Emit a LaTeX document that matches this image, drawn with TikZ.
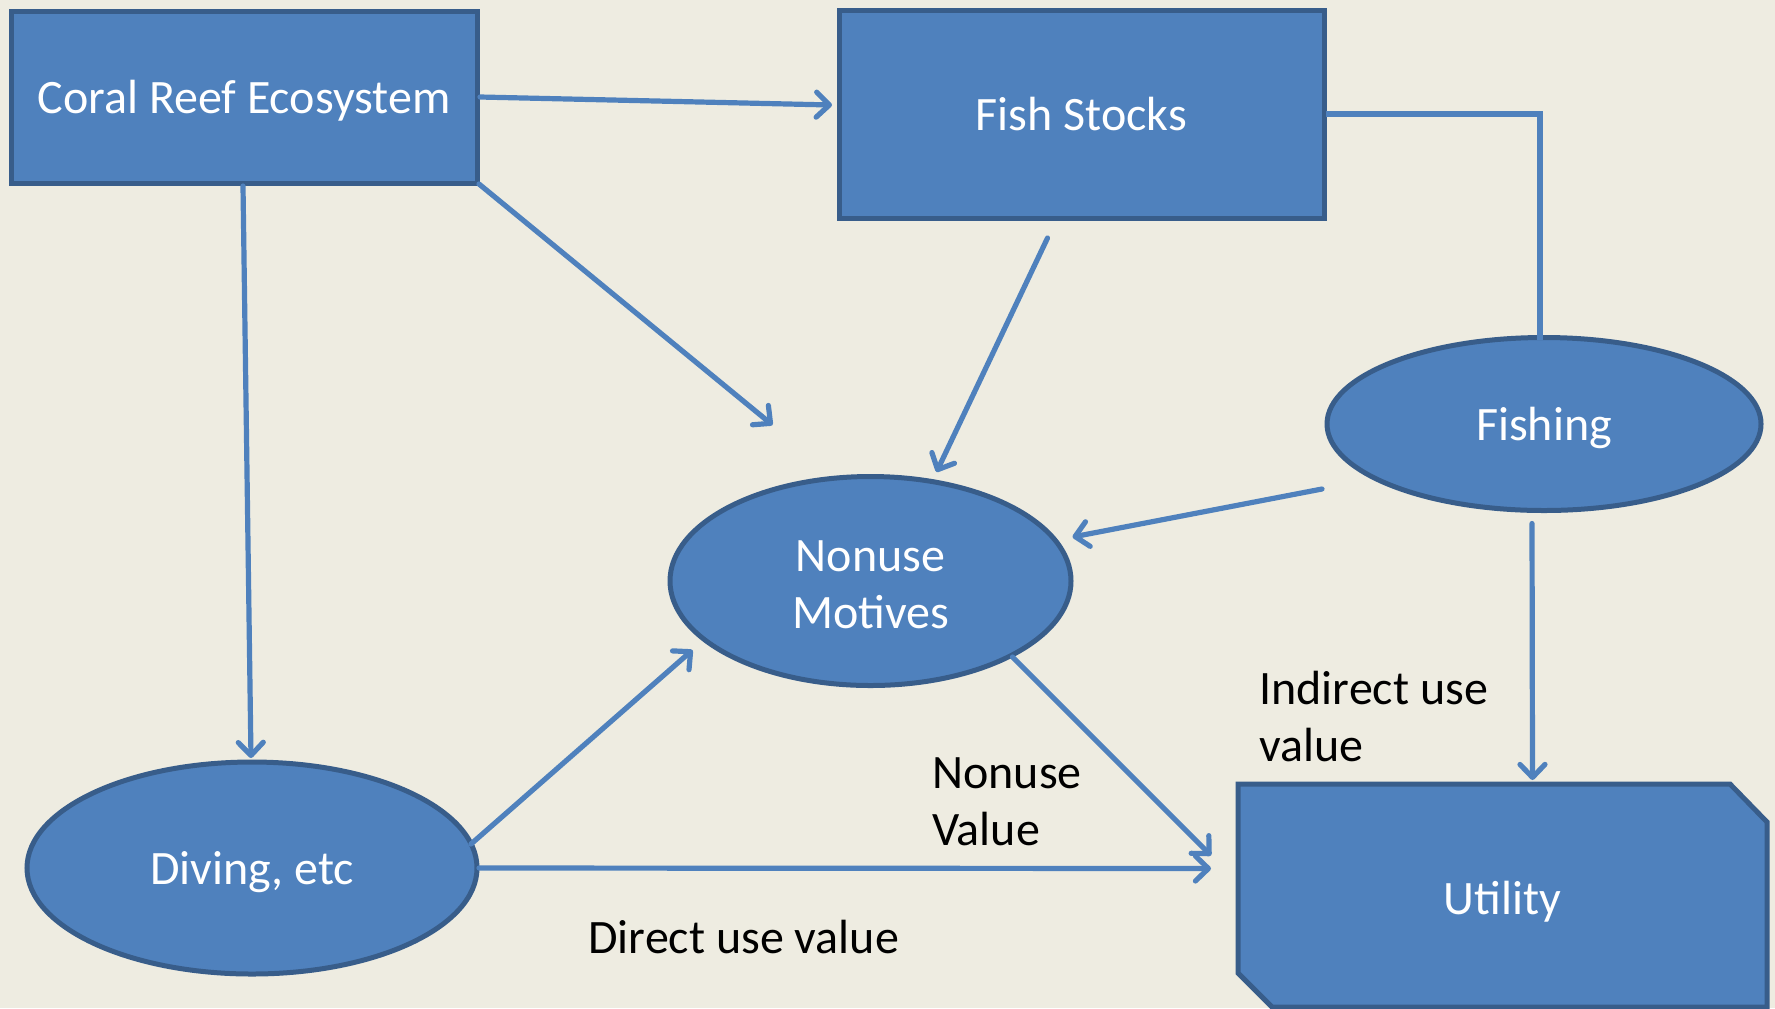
\documentclass[tikz,border=0pt]{standalone}
\usepackage{fontspec}
\setmainfont{Carlito}
\usetikzlibrary{shapes.geometric,arrows.meta,calc}
\definecolor{bg}{HTML}{EEECE1}
\definecolor{boxfill}{HTML}{4F81BD}
\definecolor{boxline}{HTML}{385D8A}
\definecolor{arrowc}{HTML}{4F81BD}
\begin{document}
\begin{tikzpicture}[x=0.5pt,y=-0.5pt,
  txt/.style={font=\fontsize{24}{28.5}\selectfont},
  box/.style={txt,rectangle,fill=boxfill,draw=boxline,line width=2.5pt,text=white,inner sep=0pt,outer sep=0pt,align=center,text depth=0pt},
  oval/.style={txt,ellipse,fill=boxfill,draw=boxline,line width=2.5pt,text=white,inner sep=0pt,outer sep=0pt,align=center,text depth=0pt},
  lbl/.style={txt,text=black,anchor=west,align=left,inner sep=0pt},
  conn/.style={draw=arrowc,line width=2.6pt,line cap=round},
  arr/.style={conn,-{Straight Barb[length=6.5pt,width=12.5pt,round]}}
]
\fill[bg] (0,0) rectangle (1775,1008);
\useasboundingbox (0,0) rectangle (1775,1008);

\node[box,minimum width=233pt,minimum height=86pt] (coral) at (244,97) {Coral Reef Ecosystem};
\node[box,minimum width=242.5pt,minimum height=104pt] (fish) at (1081.5,114) {Fish Stocks};
\node[oval,minimum width=217pt,minimum height=86.5pt] (fishing) at (1544,424) {Fishing};
\node[oval,minimum width=200.5pt,minimum height=104.5pt] (nonuse) at (870.5,581) {};
\node[txt,text=white,align=center,inner sep=0pt] (nonusetext) at (870.5,585) {Nonuse\\Motives};
\node[oval,minimum width=225pt,minimum height=106pt] (diving) at (252,868) {Diving, etc};
\node[txt,rectangle,minimum width=264.5pt,minimum height=111.5pt,inner sep=0pt,outer sep=0pt] (util) at (1502.5,895.5) {};
\fill[boxfill,draw=boxline,line width=2.5pt,line join=miter]
  (util.north west) -- ([xshift=-18.5pt]util.north east) -- ([yshift=-19pt]util.north east)
  -- (util.south east) -- ([xshift=17pt]util.south west) -- ([yshift=17pt]util.south west) -- cycle;
\node[txt,text=white,text depth=0pt] (utiltext) at ([yshift=-1pt]util.center) {Utility};

% connectors
\draw[arr] ([xshift=1.5pt]coral.east) -- ([xshift=-3.5pt,yshift=4.5pt]fish.west);
\draw[arr] ([shift={(2,1)}]coral.south east) -- ([shift={(-98,-156)}]nonuse.center);
\draw[arr] ([shift={(-1,3)}]coral.south) -- ([shift={(-1,-4)}]diving.north);
\draw[arr] ([shift={(-34,20)}]fish.south) -- ([shift={(66,-109)}]nonuse.center);
\draw[conn,line cap=butt] ([xshift=1pt]fish.east) -| ([xshift=-2pt,yshift=-1pt]fishing.north);
\draw[arr] ([shift={(-222,65)}]fishing.center) -- ([shift={(202,-44)}]nonuse.center);
\draw[arr] ([shift={(-12,13)}]fishing.south) -- ([shift={(30,-4)}]util.north);
\draw[arr] ([shift={(219,-24)}]diving.center) -- ([shift={(-178,69)}]nonuse.center);
\draw[arr] ([shift={(142,76)}]nonuse.center) -- ([shift={(-27,-40)}]util.west);
\draw[arr] ([xshift=1pt]diving.east) -- ([shift={(-27,-27)}]util.west);

% labels
\node[lbl] (indirect) at (1259,716) {Indirect use\\value};
\node[lbl] (nonusev) at (932,802) {Nonuse\\Value};
\node[lbl] (direct) at (588,937) {Direct use value};
\end{tikzpicture}
\end{document}
